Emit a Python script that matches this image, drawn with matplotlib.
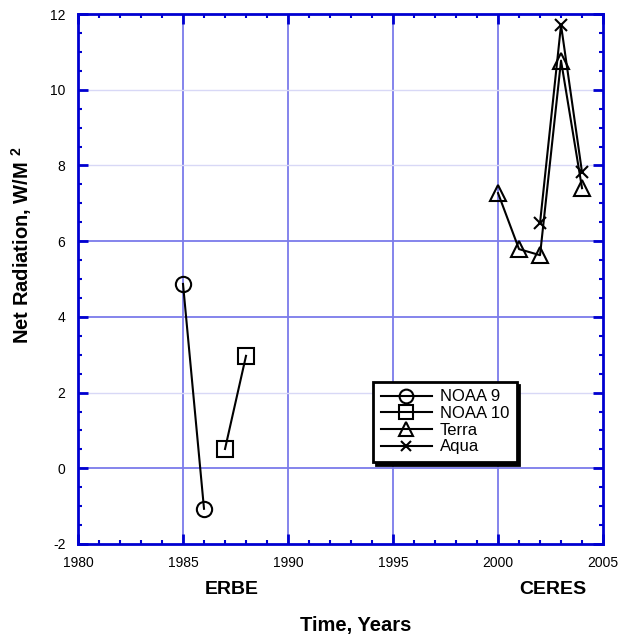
import matplotlib.pyplot as plt
from matplotlib.ticker import MultipleLocator

plt.rcParams['font.family'] = ['Liberation Sans', 'DejaVu Sans']
plt.rcParams['axes.unicode_minus'] = False
plt.rcParams['mathtext.fontset'] = 'custom'
plt.rcParams['mathtext.bf'] = 'Liberation Sans:bold'

noaa9_x = [1985, 1986]
noaa9_y = [4.87, -1.07]
noaa10_x = [1987, 1988]
noaa10_y = [0.51, 2.97]
terra_x = [2000, 2001, 2002, 2003, 2004]
terra_y = [7.27, 5.79, 5.63, 10.77, 7.4]
aqua_x = [2002, 2003, 2004]
aqua_y = [6.48, 11.71, 7.82]

blue = '#0000d0'
grid_strong = '#7b7bea'
grid_faint = '#d8d8f6'

fig = plt.figure(figsize=(6.22, 6.39), dpi=100)
ax = fig.add_axes([0.1254, 0.1487, 0.8441, 0.8293])

ax.set_xlim(1980, 2005)
ax.set_ylim(-2, 12)

# grid lines (some strong, some faint as in the original)
for x in [1985, 1990, 1995, 2000]:
    ax.axvline(x, color=grid_strong, lw=1.3, zorder=0)
for y in [0, 4, 6]:
    ax.axhline(y, color=grid_strong, lw=1.3, zorder=0)
for y in [2, 8, 10]:
    ax.axhline(y, color=grid_faint, lw=1.0, zorder=0)

ms = 11
ax.plot(noaa9_x, noaa9_y, color='black', lw=1.5, marker='o', ms=ms,
        mfc='none', mec='black', mew=1.5, label='NOAA 9')
ax.plot(noaa10_x, noaa10_y, color='black', lw=1.5, marker='s', ms=ms,
        mfc='none', mec='black', mew=1.5, label='NOAA 10')
ax.plot(terra_x, terra_y, color='black', lw=1.5, marker='^', ms=ms,
        mfc='none', mec='black', mew=1.5, label='Terra')
ax.plot(aqua_x, aqua_y, color='black', lw=1.5, marker='x', ms=8,
        mec='black', mew=1.5, label='Aqua')

for s in ax.spines.values():
    s.set_color(blue)
    s.set_linewidth(2)

ax.xaxis.set_major_locator(MultipleLocator(5))
ax.xaxis.set_minor_locator(MultipleLocator(1))
ax.yaxis.set_major_locator(MultipleLocator(2))
ax.yaxis.set_minor_locator(MultipleLocator(0.5))
ax.tick_params(which='both', direction='in', top=True, right=True,
               color=blue, labelsize=10, pad=9)
ax.tick_params(which='major', length=7, width=2)
ax.tick_params(which='minor', length=3.2, width=1.5)

ax.set_ylabel(r'Net Radiation, W/M $^{\mathbf{2}}$', fontsize=14.5,
              fontweight='bold')
ax.yaxis.set_label_coords(-0.084, 0.564)

fig.text(356 / 622, 1 - 626 / 639, 'Time, Years', fontsize=14.5,
         fontweight='bold', ha='center', va='center')
ax.text(1987.33, -3.19, 'ERBE', fontsize=14, fontweight='bold',
        ha='center', va='center', clip_on=False)
ax.text(2002.6, -3.19, 'CERES', fontsize=14, fontweight='bold',
        ha='center', va='center', clip_on=False)

leg = ax.legend(loc='upper left', bbox_to_anchor=(0.562, 0.3057),
                handlelength=3.1, handletextpad=0.45, labelspacing=0.1,
                fontsize=12, frameon=True, fancybox=False,
                shadow={'color': 'black', 'alpha': 1},
                borderpad=0.45, borderaxespad=0, markerscale=0.9)
leg.get_frame().set_edgecolor('black')
leg.get_frame().set_linewidth(2)

fig.savefig('out.png', dpi=100)
